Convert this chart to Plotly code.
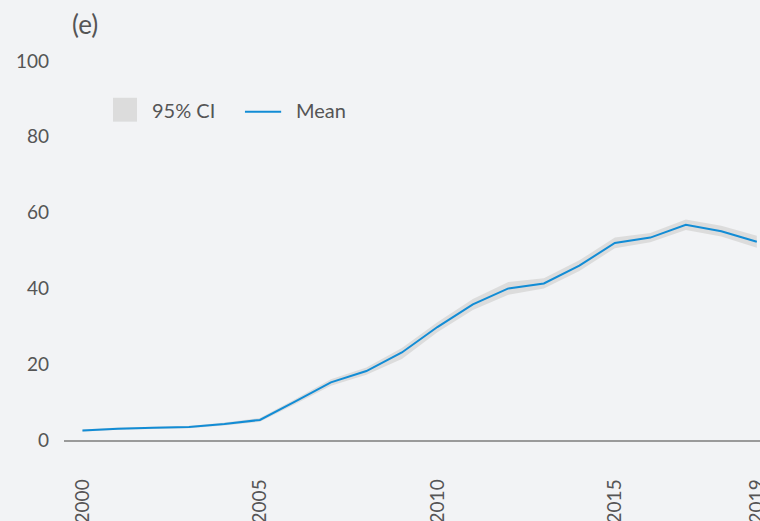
import plotly.graph_objects as go

# data
years = list(range(2000, 2020))
mean = [2.5, 3.0, 3.2, 3.4, 4.2, 5.3, 10.2, 15.2, 18.2, 23.1,
        29.8, 35.8, 40.0, 41.3, 46.0, 52.0, 53.4, 56.8, 55.1, 52.3]
ci_lower = [2.2, 2.7, 2.9, 3.1, 3.8, 4.8, 9.5, 14.3, 17.2, 21.4,
            28.4, 34.3, 38.3, 40.0, 44.6, 50.6, 52.2, 55.4, 53.7, 50.7]
ci_upper = [2.8, 3.3, 3.5, 3.7, 4.6, 5.8, 10.8, 16.0, 19.1, 24.3,
            31.1, 37.2, 41.7, 42.7, 47.4, 53.4, 54.6, 58.2, 56.5, 53.9]
y_ticks = [0, 20, 40, 60, 80, 100]
x_ticks = [2000, 2005, 2010, 2015, 2019]

BG = '#f2f3f5'
BAND = '#dcdcdc'
LINE = '#128cd5'
TEXT = '#555555'
FONT = 'Lato, "Open Sans", sans-serif'

fig = go.Figure()

# 95% CI band
fig.add_trace(go.Scatter(x=years, y=ci_upper, mode='lines', line=dict(width=0),
                         hoverinfo='skip', showlegend=False))
fig.add_trace(go.Scatter(x=years, y=ci_lower, mode='lines', line=dict(width=0),
                         fill='tonexty', fillcolor=BAND, name='95% CI',
                         showlegend=False))
# mean line
fig.add_trace(go.Scatter(x=years, y=mean, mode='lines', name='Mean',
                         line=dict(color=LINE, width=2), showlegend=False))

# hand-made legend (square swatch + line swatch)
fig.add_shape(type='rect', xref='paper', yref='paper',
              x0=0.0704, x1=0.1049, y0=0.840, y1=0.903,
              fillcolor=BAND, line=dict(width=0), layer='below')
fig.add_shape(type='line', xref='paper', yref='paper',
              x0=0.260, x1=0.312, y0=0.866, y1=0.866,
              line=dict(color=LINE, width=2))
fig.add_annotation(text='95% CI', xref='paper', yref='paper', x=0.1236, y=0.8715,
                   xanchor='left', yanchor='middle', showarrow=False,
                   font=dict(size=20, color=TEXT, family=FONT))
fig.add_annotation(text='Mean', xref='paper', yref='paper', x=0.3305, y=0.8715,
                   xanchor='left', yanchor='middle', showarrow=False,
                   font=dict(size=20, color=TEXT, family=FONT))
# panel label
fig.add_annotation(text='(e)', xref='paper', yref='paper', x=0.008, y=1.097,
                   xanchor='left', yanchor='middle', showarrow=False,
                   font=dict(size=26, color=TEXT, family=FONT))

fig.update_layout(
    width=760, height=521,
    margin=dict(l=64, r=0, t=61, b=81, autoexpand=False),
    paper_bgcolor=BG, plot_bgcolor=BG,
    font=dict(family=FONT, size=19, color=TEXT),
    showlegend=False,
    xaxis=dict(range=[1999.48, 2019.09], tickvals=x_ticks, tickangle=-90,
               showgrid=False, zeroline=False, showline=True,
               linecolor='#9a9a9a', linewidth=1.5, ticks='',
               ticklabelstandoff=30, ticklabeloverflow='allow',
               automargin=False),
    yaxis=dict(range=[0, 100], tickvals=y_ticks, showgrid=False,
               zeroline=False, showline=False, ticks='',
               ticklabelstandoff=14, automargin=False),
)

# drop the default page margin so the figure fills the window
fig.write_html("out.html", config={'displayModeBar': False}, post_script=(
    "document.body.style.margin='0';"
    "document.body.style.overflow='hidden';"
    "document.body.style.background='#f2f3f5';"))
